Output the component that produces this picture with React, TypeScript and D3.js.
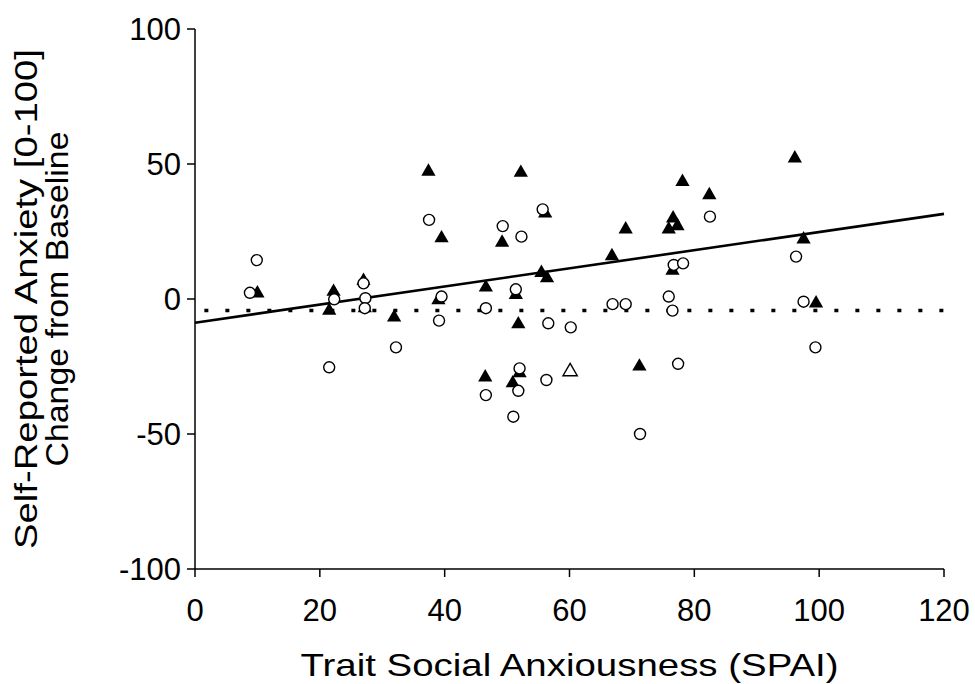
import React from 'react';
import * as d3 from 'd3';

const xTicks = [0, 20, 40, 60, 80, 100, 120];
const yTicks = [-100, -50, 0, 50, 100];
const xTitle = 'Trait Social Anxiousness (SPAI)';
const yTitleLines = ['Self-Reported Anxiety [0-100]', 'Change from Baseline'];

const filledTriangles: [number, number][] = [
  [10.0, 2.1], [22.2, 2.7], [21.5, -4.3], [27.0, 6.8], [27.2, -3.4], [31.9, -6.8],
  [37.4, 47.2], [39.5, 22.5], [39.0, -0.4], [46.6, 4.3], [46.5, -29.0],
  [52.2, 46.8], [56.1, 31.7], [49.2, 20.9], [55.5, 9.7], [56.4, 7.7], [51.4, 1.5],
  [51.8, -9.3], [52.0, -27.5], [50.9, -31.2], [78.1, 43.4], [76.6, 29.9],
  [77.3, 27.0], [75.9, 25.8], [69.0, 25.8], [66.8, 15.9], [76.5, 10.5],
  [71.2, -25.0], [82.4, 38.5], [96.1, 52.1], [97.5, 22.1], [99.5, -1.6],
];

const openTriangles: [number, number][] = [[60.1, -26.9]];

const openCircles: [number, number][] = [
  [9.9, 14.4], [8.8, 2.3], [22.3, -0.1], [21.5, -25.3], [27.0, 5.8], [27.3, 0.3],
  [27.2, -3.4], [32.2, -17.9], [37.5, 29.3], [39.5, 0.9], [39.1, -8.0],
  [46.6, -3.4], [46.6, -35.6], [55.7, 33.2], [49.3, 27.0], [52.3, 23.1],
  [51.4, 3.6], [56.6, -9.0], [60.2, -10.5], [52.0, -25.7], [51.8, -34.0],
  [56.3, -30.0], [51.0, -43.6], [76.7, 12.6], [78.2, 13.2], [66.9, -1.9],
  [69.0, -1.9], [75.9, 0.9], [76.5, -4.3], [77.4, -24.0], [71.3, -50.0],
  [82.5, 30.5], [96.3, 15.7], [97.5, -1.0], [99.4, -17.9],
];

const fitIntercept = -8.8;
const fitSlope = 0.336;
const fitXRange = [0, 120];
const baselineLevel = -4.3;
const baselineXRange = [1.5, 120];

const W = 975;
const H = 684;
const FONT = '"Liberation Sans", Arial, sans-serif';
const yTitleLengths = [500, 335];

export default function App() {
  const x = d3.scaleLinear().domain([0, 120]).range([195, 944]);
  const y = d3.scaleLinear().domain([-100, 100]).range([569, 29]);
  const line = d3.line<[number, number]>().x((d) => x(d[0])).y((d) => y(d[1]));
  const fitPts: [number, number][] = fitXRange.map((v) => [v, fitIntercept + fitSlope * v]);
  const basePts: [number, number][] = baselineXRange.map((v) => [v, baselineLevel]);
  const tri = d3.symbol().type(d3.symbolTriangle).size(88)();
  const [x0, x1] = x.range();
  const [yb, yt] = y.range();

  return (
    <svg width={W} height={H} style={{ position: 'absolute', left: 0, top: 0, background: '#fff' }}
      fontFamily={FONT}>
      <rect width={W} height={H} fill="#fff" />
      {/* axes */}
      <line x1={x0} x2={x0} y1={yt} y2={yb} stroke="#000" strokeWidth={1.5} />
      <line x1={x0} x2={x1} y1={yb} y2={yb} stroke="#000" strokeWidth={1.5} />
      {yTicks.map((t) => (
        <g key={'y' + t}>
          <line x1={x0 - 8} x2={x0} y1={y(t)} y2={y(t)} stroke="#000" strokeWidth={1.5} />
          <text x={x0 - 14} y={y(t)} dy="0.35em" textAnchor="end" fontSize={31} fill="#000">{t}</text>
        </g>
      ))}
      {xTicks.map((t) => (
        <g key={'x' + t}>
          <line x1={x(t)} x2={x(t)} y1={yb} y2={yb + 8} stroke="#000" strokeWidth={1.5} />
          <text x={x(t)} y={621} textAnchor="middle" fontSize={31} fill="#000">{t}</text>
        </g>
      ))}
      <text x={(x0 + x1) / 2} y={676} textAnchor="middle" fontSize={32} fill="#000"
        textLength={538} lengthAdjust="spacingAndGlyphs">{xTitle}</text>
      {yTitleLines.map((s, i) => (
        <text key={s} transform={`translate(${37 + i * 31},${(yt + yb) / 2}) rotate(-90)`}
          textAnchor="middle" fontSize={32} fill="#000"
          textLength={yTitleLengths[i]} lengthAdjust="spacingAndGlyphs">{s}</text>
      ))}
      {/* reference lines */}
      <path d={line(basePts) || ''} fill="none" stroke="#000" strokeWidth={3.5} strokeDasharray="4 17" />
      <path d={line(fitPts) || ''} fill="none" stroke="#000" strokeWidth={2.6} />
      {/* points */}
      {filledTriangles.map((d, i) => (
        <path key={'ft' + i} d={tri || ''} transform={`translate(${x(d[0])},${y(d[1])})`} fill="#000" />
      ))}
      {openTriangles.map((d, i) => (
        <path key={'ot' + i} d={tri || ''} transform={`translate(${x(d[0])},${y(d[1])})`} fill="#fff" stroke="#000" strokeWidth={1.4} />
      ))}
      {openCircles.map((d, i) => (
        <circle key={'oc' + i} cx={x(d[0])} cy={y(d[1])} r={5.5} fill="#fff" stroke="#000" strokeWidth={1.4} />
      ))}
    </svg>
  );
}
